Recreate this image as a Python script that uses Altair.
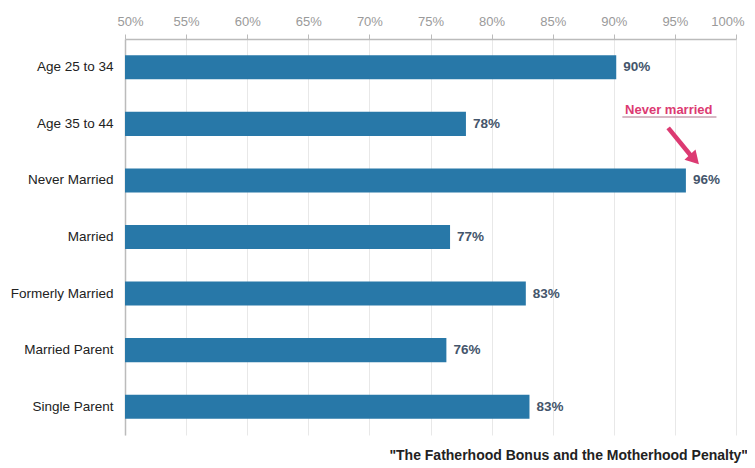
import altair as alt
import pandas as pd

categories = ["Age 25 to 34", "Age 35 to 44", "Never Married", "Married",
              "Formerly Married", "Married Parent", "Single Parent"]
values = [90.2, 77.9, 95.9, 76.6, 82.8, 76.3, 83.1]
labels = ["90%", "78%", "96%", "77%", "83%", "76%", "83%"]
base_value = 50

source_title = '"The Fatherhood Bonus and the Motherhood Penalty"'
note_text = ["Never married"]
note_x = [94.5]
note_y = [1.25]
underline_x = [90.7]
underline_x2 = [98.4]
underline_y = [1.38]
arrow_x = [94.45]
arrow_x2 = [96.3]
arrow_y = [1.57]
arrow_y2 = [2.06]
head_x = [96.6]
head_y = [2.13]

df = pd.DataFrame({"cat": categories, "value": values, "label": labels,
                   "base": [base_value] * len(categories)})

FONT = "Liberation Sans"
PINK = "#dc3a72"

yenc = alt.Y("cat:N", sort=categories, title=None,
             scale=alt.Scale(paddingInner=0.575, paddingOuter=0.2875),
             axis=alt.Axis(labelFontSize=13.5, labelColor="#222", labelFont=FONT,
                           labelPadding=12, ticks=False, grid=False,
                           domainColor="#bbbbbb", domainWidth=1.5))
xscale = alt.Scale(domain=[50, 100], nice=False, zero=False)

bars = alt.Chart(df).mark_bar(color="#2878a8").encode(
    x=alt.X("base:Q", scale=xscale, title=None,
            axis=alt.Axis(orient="top", values=list(range(50, 101, 5)),
                          labelExpr="datum.value + '%'", labelFontSize=13,
                          labelColor="#9a9a9a", labelFont=FONT, labelPadding=6,
                          labelFlush=True, labelFlushOffset=8,
                          tickSize=5, tickColor="#bbbbbb",
                          domainColor="#bbbbbb", domainWidth=1.5, grid=True,
                          gridColor="#e8e8e8", gridWidth=1)),
    x2="value:Q",
    y=yenc,
)

text = alt.Chart(df).mark_text(align="left", baseline="middle", dx=7,
                               fontSize=13.5, fontWeight="bold", color="#44556b",
                               font=FONT).encode(
    x=alt.X("value:Q", scale=xscale),
    y=alt.Y("cat:N", sort=categories),
    text="label:N",
)

main = alt.layer(bars, text)

yq = alt.Scale(domain=[0, 7], reverse=True, nice=False, zero=False)

note_df = pd.DataFrame({"t": note_text, "x": note_x, "y": note_y})
note = alt.Chart(note_df).mark_text(fontSize=13, fontWeight="bold", color=PINK,
                                    font=FONT, baseline="middle").encode(
    x=alt.X("x:Q", scale=xscale), y=alt.Y("y:Q", scale=yq, axis=None), text="t:N")

ul_df = pd.DataFrame({"x": underline_x, "x2": underline_x2, "y": underline_y})
ul = alt.Chart(ul_df).mark_rule(color="#c9a0b0", strokeWidth=1.5).encode(
    x=alt.X("x:Q", scale=xscale), x2="x2:Q", y=alt.Y("y:Q", scale=yq, axis=None))

ar_df = pd.DataFrame({"x": arrow_x, "x2": arrow_x2, "y": arrow_y, "y2": arrow_y2})
arrow = alt.Chart(ar_df).mark_rule(color=PINK, strokeWidth=4.5).encode(
    x=alt.X("x:Q", scale=xscale), x2="x2:Q",
    y=alt.Y("y:Q", scale=yq, axis=None), y2="y2:Q")

hd_df = pd.DataFrame({"x": head_x, "y": head_y})
head = alt.Chart(hd_df).mark_point(shape="triangle-up", filled=True, color=PINK,
                                   size=230, angle=137, opacity=1).encode(
    x=alt.X("x:Q", scale=xscale), y=alt.Y("y:Q", scale=yq, axis=None))

annot = alt.layer(ul, arrow, head, note)

chart = alt.layer(main, annot).resolve_scale(y="independent").properties(
    width=611, height=396,
    autosize=alt.AutoSizeParams(type="none"),
    padding={"left": 117, "top": 31, "right": 11, "bottom": 28},
    title=alt.TitleParams(text=source_title, orient="bottom", anchor="end",
                          fontSize=14, fontWeight="bold", color="#222", font=FONT,
                          offset=14, dx=4),
).configure_view(stroke=None)

chart.save("out.html", embed_options={"renderer": "svg", "actions": False})
